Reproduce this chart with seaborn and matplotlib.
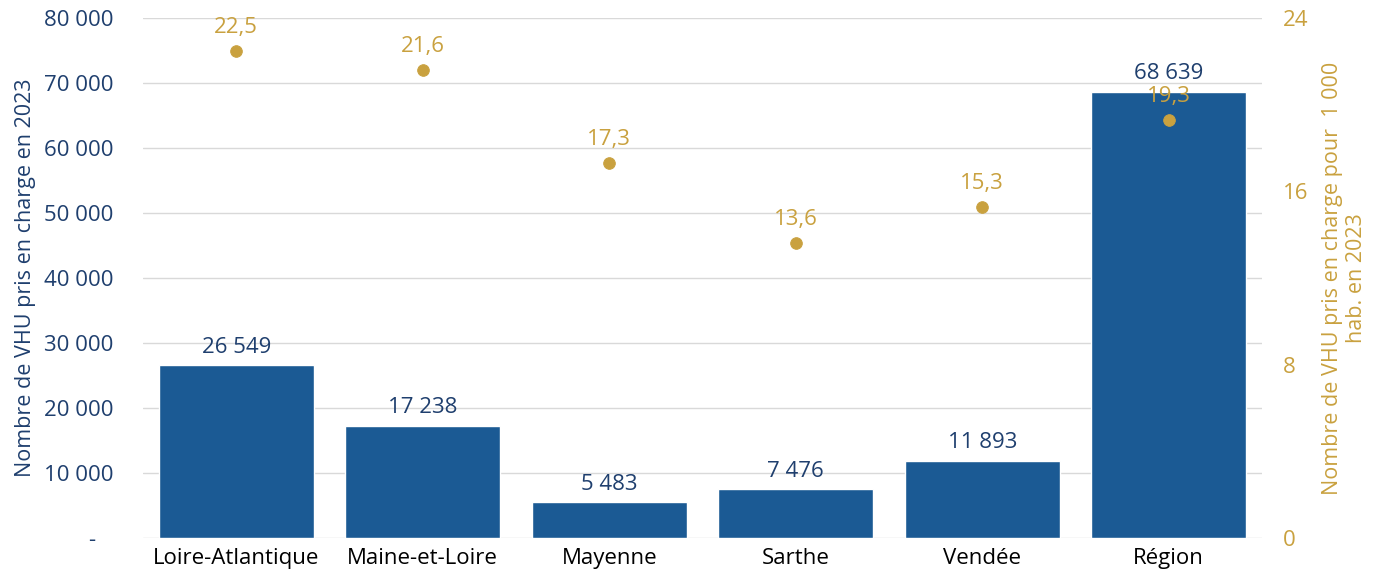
import numpy as np
import pandas as pd
import matplotlib
matplotlib.use("Agg")
import matplotlib.pyplot as plt
import seaborn as sns

# data
departements = ["Loire-Atlantique", "Maine-et-Loire", "Mayenne", "Sarthe", "Vendée", "Région"]
vhu = [26549, 17238, 5483, 7476, 11893, 68639]
vhu_par_1000 = [22.5, 21.6, 17.3, 13.6, 15.3, 19.3]

blue = "#1B5A94"
navy = "#1F3F6E"
gold = "#C9A13F"

sns.set_style("white")
plt.rcParams["font.family"] = ["Open Sans", "DejaVu Sans"]

df = pd.DataFrame({"dep": departements, "vhu": vhu, "taux": vhu_par_1000})

fig = plt.figure(figsize=(13.83, 5.84), dpi=100)
ax = fig.add_axes([0.1034, 0.0788, 0.8091, 0.8903])

sns.barplot(data=df, x="dep", y="vhu", color=blue, width=0.83, saturation=1, ax=ax)
ax.set_xlim(-0.5, 5.5)
ax.set_ylim(0, 80000)
ax.set_yticks(np.arange(0, 80001, 10000))
ax.set_yticklabels(["-   "] + [f"{v:,}".replace(",", " ") for v in range(10000, 80001, 10000)])
ax.yaxis.grid(True, color="#D9D9D9", linewidth=1)
ax.set_axisbelow(True)
for s in ax.spines.values():
    s.set_visible(False)
ax.tick_params(axis="y", colors=navy, labelsize=16, length=0, pad=21)
ax.tick_params(axis="x", colors="black", labelsize=16, length=0, pad=7)
ax.set_xlabel("")
ax.set_ylabel("Nombre de VHU pris en charge en 2023", color=navy, fontsize=15.5, labelpad=6)

for i, v in enumerate(vhu):
    ax.text(i, v + 1200, f"{v:,}".replace(",", " "), ha="center", va="bottom",
            color=navy, fontsize=16)

ax2 = ax.twinx()
ax2.set_ylim(0, 24)
ax2.set_yticks([0, 8, 16, 24])
sns.scatterplot(x=np.arange(len(departements)), y=vhu_par_1000, color=gold, s=70,
                edgecolor=gold, ax=ax2, zorder=5)
for i, v in enumerate(vhu_par_1000):
    ax2.text(i, v + 0.6, f"{v:.1f}".replace(".", ","), ha="center", va="bottom",
             color=gold, fontsize=16)
for s in ax2.spines.values():
    s.set_visible(False)
ax2.tick_params(axis="y", colors=gold, labelsize=16, length=0, pad=15)
ax2.set_ylabel("Nombre de VHU pris en charge pour  1 000\nhab. en 2023", color=gold,
               fontsize=15.5, labelpad=10)

fig.savefig("out.png", dpi=100)
